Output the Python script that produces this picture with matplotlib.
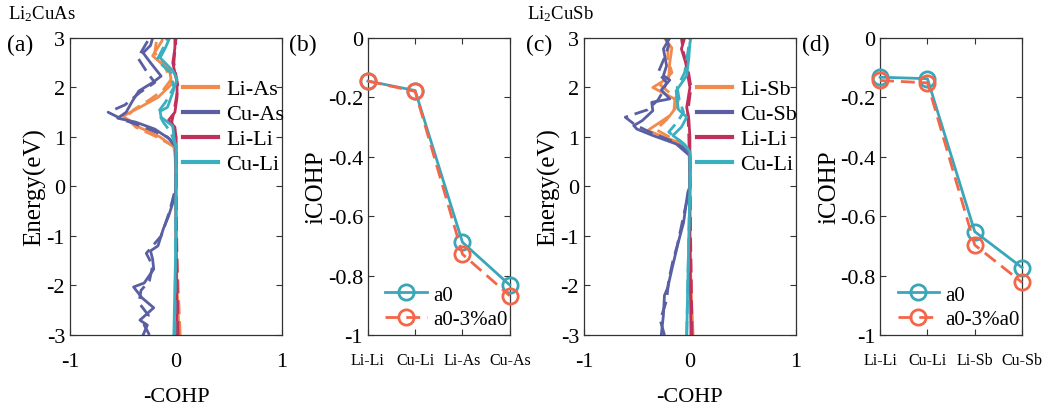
import matplotlib
matplotlib.use('Agg')
import matplotlib.pyplot as plt
from matplotlib.lines import Line2D

plt.rcParams['font.family'] = 'Liberation Serif'
plt.rcParams['mathtext.fontset'] = 'custom'
plt.rcParams['mathtext.rm'] = 'Liberation Serif'
plt.rcParams['mathtext.default'] = 'regular'

ORANGE = '#f28a4c'
BLUE = '#5a5fa3'
RED = '#c0305a'
TEAL = '#3aafbf'
A0_COL = '#3aa7b8'
A3_COL = '#f4664a'

# ---- (a) Li2CuAs COHP: energy (eV) and -COHP values, solid = a0, dashed = compressed
a_cuas_e = [-3.0, -2.8, -2.7, -2.45, -2.25, -2.03, -1.95, -1.67, -1.47, -1.3, -1.2, -0.86, -0.6, -0.2, 0.0, 0.5, 0.8, 0.96, 1.16, 1.3, 1.38, 1.5, 1.73, 1.93, 2.1, 2.23, 2.5, 2.7, 2.85, 3.0]
a_cuas_v = [-0.31, -0.27, -0.34, -0.21, -0.32, -0.40, -0.30, -0.21, -0.22, -0.24, -0.17, -0.12, -0.07, -0.01, 0.0, 0.0, 0.0, -0.06, -0.20, -0.38, -0.55, -0.47, -0.41, -0.35, -0.22, -0.14, -0.24, -0.31, -0.24, -0.22]
a_cuas_de = [-3.0, -2.8, -2.6, -2.35, -2.1, -1.9, -1.6, -1.35, -1.0, -0.5, 0.0, 0.8, 1.0, 1.2, 1.35, 1.5, 1.65, 1.9, 2.1, 2.3, 2.6, 3.0]
a_cuas_dv = [-0.25, -0.30, -0.26, -0.35, -0.33, -0.25, -0.22, -0.28, -0.14, -0.06, 0.0, 0.0, -0.08, -0.30, -0.50, -0.64, -0.48, -0.34, -0.20, -0.27, -0.36, -0.25]

a_lias_e = [-3.0, -2.5, -2.0, -1.0, 0.0, 0.5, 0.8, 1.0, 1.2, 1.42, 1.6, 1.8, 2.07, 2.34, 2.64, 2.95, 3.0]
a_lias_v = [0.03, 0.02, 0.01, 0.0, 0.0, 0.0, -0.02, -0.15, -0.35, -0.50, -0.34, -0.17, -0.04, -0.06, -0.22, -0.13, -0.13]
a_lias_de = [-3.0, -2.5, -2.0, -1.0, 0.0, 0.8, 1.0, 1.2, 1.4, 1.55, 1.75, 1.95, 2.15, 2.4, 2.7, 3.0]
a_lias_dv = [0.04, 0.03, 0.02, 0.0, 0.0, -0.01, -0.18, -0.38, -0.47, -0.40, -0.25, -0.12, -0.05, -0.10, -0.20, -0.18]

a_lili_e = [-3.0, -1.0, 0.0, 1.0, 1.2, 1.34, 1.5, 1.8, 2.1, 2.5, 2.8, 3.0]
a_lili_v = [0.01, 0.0, 0.0, 0.0, -0.01, -0.07, -0.01, 0.01, 0.01, -0.03, -0.01, -0.01]
a_lili_de = [-3.0, 0.0, 1.0, 1.3, 1.5, 2.0, 2.5, 3.0]
a_lili_dv = [0.02, 0.0, 0.0, -0.04, -0.02, 0.02, -0.02, 0.0]

a_culi_e = [-3.0, -1.0, 0.0, 0.8, 1.0, 1.22, 1.4, 1.52, 1.6, 1.9, 2.17, 2.34, 2.6, 2.8, 3.0]
a_culi_v = [-0.02, 0.0, 0.0, 0.0, -0.02, -0.03, -0.14, -0.15, -0.08, -0.03, 0.01, -0.03, -0.15, -0.10, -0.06]
a_culi_de = [-3.0, 0.0, 0.8, 1.1, 1.3, 1.5, 1.7, 2.0, 2.3, 2.55, 2.8, 3.0]
a_culi_dv = [-0.01, 0.0, 0.0, -0.05, -0.12, -0.17, -0.10, -0.02, -0.05, -0.18, -0.12, -0.08]

# ---- (c) Li2CuSb COHP
c_cusb_e = [-3.0, -2.6, -2.2, -2.05, -1.67, -1.4, -1.13, -0.73, -0.12, 0.0, 0.62, 0.86, 1.03, 1.16, 1.23, 1.33, 1.53, 1.7, 1.77, 1.95, 2.15, 2.24, 2.44, 2.78, 3.0]
c_cusb_v = [-0.27, -0.25, -0.24, -0.21, -0.17, -0.14, -0.11, -0.06, -0.02, 0.0, 0.0, -0.13, -0.35, -0.50, -0.53, -0.45, -0.35, -0.36, -0.19, -0.27, -0.19, -0.25, -0.22, -0.25, -0.19]
c_cusb_de = [-3.0, -2.7, -2.3, -1.9, -1.5, -1.2, -0.8, -0.3, 0.0, 0.7, 0.9, 1.1, 1.25, 1.4, 1.55, 1.75, 1.9, 2.1, 2.3, 2.6, 2.85, 3.0]
c_cusb_dv = [-0.24, -0.28, -0.22, -0.20, -0.16, -0.12, -0.08, -0.03, 0.0, 0.0, -0.15, -0.38, -0.52, -0.61, -0.40, -0.30, -0.26, -0.22, -0.30, -0.24, -0.20, -0.23]

c_lisb_e = [-3.0, -2.5, -2.0, -1.0, 0.0, 0.7, 0.9, 1.13, 1.3, 1.43, 1.6, 1.73, 2.0, 2.2, 2.5, 2.8, 3.0]
c_lisb_v = [0.03, 0.02, 0.01, 0.0, 0.0, 0.0, -0.12, -0.40, -0.28, -0.19, -0.13, -0.11, -0.35, -0.20, -0.19, -0.17, -0.24]
c_lisb_de = [-3.0, -2.0, 0.0, 0.7, 0.95, 1.15, 1.35, 1.55, 1.8, 2.05, 2.3, 2.6, 3.0]
c_lisb_dv = [0.02, 0.01, 0.0, 0.0, -0.15, -0.32, -0.22, -0.15, -0.14, -0.28, -0.17, -0.21, -0.20]

c_lili_e = [-3.0, -1.0, 0.0, 1.0, 1.36, 1.6, 2.0, 2.5, 2.78, 3.0]
c_lili_v = [0.01, 0.0, 0.0, 0.0, -0.01, -0.03, 0.0, -0.04, -0.08, -0.05]
c_lili_de = [-3.0, 0.0, 1.0, 1.5, 2.0, 2.4, 2.7, 3.0]
c_lili_dv = [0.02, 0.0, -0.01, -0.02, 0.01, -0.02, -0.06, -0.08]

c_culi_e = [-3.0, -1.0, 0.0, 0.7, 0.85, 1.03, 1.2, 1.4, 1.56, 1.93, 2.24, 2.6, 2.9, 3.0]
c_culi_v = [-0.03, -0.01, 0.0, 0.0, -0.05, -0.16, -0.08, -0.03, -0.11, -0.13, -0.03, -0.01, 0.0, 0.01]
c_culi_de = [-3.0, 0.0, 0.7, 0.9, 1.1, 1.3, 1.5, 1.75, 2.0, 2.3, 2.7, 3.0]
c_culi_dv = [-0.03, 0.0, 0.0, -0.08, -0.20, -0.12, -0.06, -0.10, -0.12, -0.05, -0.02, 0.0]

# ---- (b), (d) iCOHP
b_bonds = ['Li-Li', 'Cu-Li', 'Li-As', 'Cu-As']
b_a0 = [-0.145, -0.177, -0.688, -0.832]
b_a3 = [-0.145, -0.180, -0.728, -0.868]

d_bonds = ['Li-Li', 'Cu-Li', 'Li-Sb', 'Cu-Sb']
d_a0 = [-0.132, -0.137, -0.652, -0.773]
d_a3 = [-0.143, -0.151, -0.697, -0.823]

cohp_a = [
    ('Li-As', ORANGE, a_lias_e, a_lias_v, a_lias_de, a_lias_dv),
    ('Cu-As', BLUE, a_cuas_e, a_cuas_v, a_cuas_de, a_cuas_dv),
    ('Li-Li', RED, a_lili_e, a_lili_v, a_lili_de, a_lili_dv),
    ('Cu-Li', TEAL, a_culi_e, a_culi_v, a_culi_de, a_culi_dv),
]
cohp_c = [
    ('Li-Sb', ORANGE, c_lisb_e, c_lisb_v, c_lisb_de, c_lisb_dv),
    ('Cu-Sb', BLUE, c_cusb_e, c_cusb_v, c_cusb_de, c_cusb_dv),
    ('Li-Li', RED, c_lili_e, c_lili_v, c_lili_de, c_lili_dv),
    ('Cu-Li', TEAL, c_culi_e, c_culi_v, c_culi_de, c_culi_dv),
]


def style_box(ax):
    for s in ax.spines.values():
        s.set_color('#333333')
        s.set_linewidth(0.9)
    ax.tick_params(direction='in', top=True, right=True, length=4, width=0.8,
                   labelsize=16, color='#333333')


def plot_cohp(ax, curves):
    handles = []
    for name, col, e, v, de, dv in curves:
        ax.plot(dv, de, color=col, lw=2.0, ls=(0, (5, 2.5)))
        ax.plot(v, e, color=col, lw=2.0)
        handles.append(Line2D([], [], color=col, lw=3, label=name))
    ax.set_xlim(-1, 1)
    ax.set_ylim(-3, 3)
    ax.set_xticks([-1, 0, 1])
    ax.set_xticklabels(['-1', '0', '1'])
    ax.set_yticks([-3, -2, -1, 0, 1, 2, 3])
    ax.set_yticklabels(['-3', '-2', '-1', '0', '1', '2', '3'])
    style_box(ax)
    ax.tick_params(axis='x', pad=12)
    ax.set_xlabel('-COHP', fontsize=16, labelpad=12)
    ax.set_ylabel('Energy(eV)', fontsize=18, labelpad=0)
    ax.legend(handles=handles, loc='upper left', bbox_to_anchor=(0.48, 0.9),
              frameon=False, fontsize=16, handlelength=1.6, handletextpad=0.35,
              labelspacing=0.2, borderpad=0)


def plot_icohp(ax, bonds, a0, a3):
    x = range(len(bonds))
    ax.plot(x, a0, color=A0_COL, lw=2, marker='o', ms=11, mfc='none', mew=2,
            label='a0', clip_on=False, zorder=3)
    ax.plot(x, a3, color=A3_COL, lw=2, ls=(0, (5, 2.5)), marker='o', ms=11, mfc='none',
            mew=2, label='a0-3%a0', clip_on=False, zorder=3)
    ax.set_xlim(0, len(bonds) - 1)
    ax.set_ylim(-1, 0)
    ax.set_xticks(list(x))
    ax.set_yticks([-1, -0.8, -0.6, -0.4, -0.2, 0])
    ax.set_yticklabels(['-1', '-0.8', '-0.6', '-0.4', '-0.2', '0'])
    ax.set_ylabel('iCOHP', fontsize=18, labelpad=0)
    style_box(ax)
    ax.set_xticklabels(bonds, fontsize=11.5)
    ax.tick_params(axis='x', pad=12)
    ax.legend(loc='lower left', bbox_to_anchor=(0.02, -0.03), frameon=False, fontsize=15,
              handlelength=2.0, handletextpad=0.3, labelspacing=0.25, borderpad=0.2)


def main():
    fig = plt.figure(figsize=(10.54, 4.10), dpi=100)
    ax_a = fig.add_axes([0.0664, 0.1805, 0.2011, 0.7244])
    ax_b = fig.add_axes([0.349, 0.1805, 0.1347, 0.7244])
    ax_c = fig.add_axes([0.554, 0.1805, 0.2011, 0.7244])
    ax_d = fig.add_axes([0.835, 0.1805, 0.1347, 0.7244])

    plot_cohp(ax_a, cohp_a)
    plot_icohp(ax_b, b_bonds, b_a0, b_a3)
    plot_cohp(ax_c, cohp_c)
    plot_icohp(ax_d, d_bonds, d_a0, d_a3)

    # panel letters
    for xp, lab in [(0.007, '(a)'), (0.274, '(b)'), (0.499, '(c)'), (0.761, '(d)')]:
        fig.text(xp, 0.89, lab, fontsize=17, va='center')

    fig.text(0.008, 0.965, 'Li$_2$CuAs', fontsize=13.5, va='center')
    fig.text(0.5, 0.965, 'Li$_2$CuSb', fontsize=13.5, va='center')

    fig.savefig('out.png', dpi=100)


if __name__ == '__main__':
    main()
